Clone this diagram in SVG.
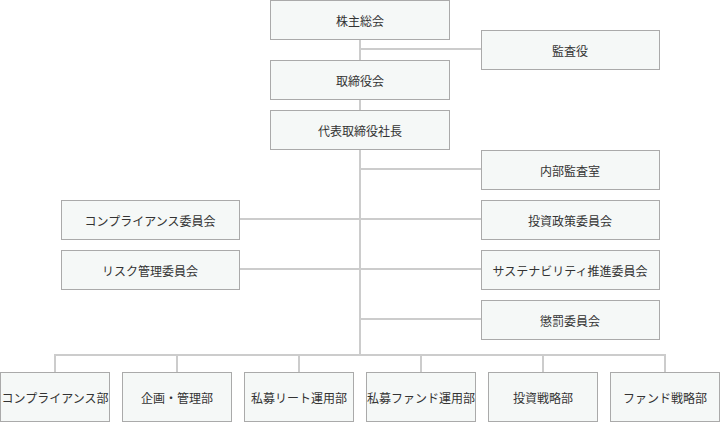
<svg xmlns="http://www.w3.org/2000/svg" width="720" height="422" viewBox="0 0 720 422">
<style>
.b{fill:#f5f8f7;stroke:#aaaaaa;stroke-width:1}
.t{font-family:"Noto Sans CJK JP",sans-serif;font-size:12px;fill:#333;text-anchor:middle;dominant-baseline:central}
.c{stroke:#cccccc;stroke-width:2;fill:none}
</style>
<rect width="720" height="422" fill="#fff"/>
<g id="connectors" class="c">
<path d="M360 39V355M360 49H481M360 169H481M360 219H481M360 269H481M360 319H481M239 219H360M239 269H360"/>
<path d="M55 355H665M55 354V372M177 354V372M299 354V372M421 354V372M543 354V372M665 354V372"/>
</g>
<g id="n1"><rect class="b" x="270.5" y="0.5" width="179" height="39"/><text class="t" x="360" y="20">株主総会</text></g>
<g id="n2"><rect class="b" x="481.5" y="30.5" width="178" height="39"/><text class="t" x="570" y="50">監査役</text></g>
<g id="n3"><rect class="b" x="270.5" y="60.5" width="179" height="39"/><text class="t" x="360" y="80">取締役会</text></g>
<g id="n4"><rect class="b" x="270.5" y="110.5" width="179" height="39"/><text class="t" x="360" y="130">代表取締役社長</text></g>
<g id="n5"><rect class="b" x="481.5" y="150.5" width="178" height="39"/><text class="t" x="570" y="170">内部監査室</text></g>
<g id="n6"><rect class="b" x="481.5" y="200.5" width="178" height="39"/><text class="t" x="570" y="220">投資政策委員会</text></g>
<g id="n7"><rect class="b" x="481.5" y="250.5" width="178" height="39"/><text class="t" x="570" y="270">サステナビリティ推進委員会</text></g>
<g id="n8"><rect class="b" x="481.5" y="300.5" width="178" height="39"/><text class="t" x="570" y="320">懲罰委員会</text></g>
<g id="n9"><rect class="b" x="61.5" y="200.5" width="178" height="39"/><text class="t" x="150" y="220">コンプライアンス委員会</text></g>
<g id="n10"><rect class="b" x="61.5" y="250.5" width="178" height="39"/><text class="t" x="150" y="270">リスク管理委員会</text></g>
<g id="n11"><rect class="b" x="0.5" y="372.5" width="109" height="49"/><text class="t" x="55" y="397">コンプライアンス部</text></g>
<g id="n12"><rect class="b" x="122.5" y="372.5" width="109" height="49"/><text class="t" x="177" y="397">企画・管理部</text></g>
<g id="n13"><rect class="b" x="244.5" y="372.5" width="109" height="49"/><text class="t" x="299" y="397">私募リート運用部</text></g>
<g id="n14"><rect class="b" x="366.5" y="372.5" width="109" height="49"/><text class="t" x="421" y="397">私募ファンド運用部</text></g>
<g id="n15"><rect class="b" x="488.5" y="372.5" width="109" height="49"/><text class="t" x="543" y="397">投資戦略部</text></g>
<g id="n16"><rect class="b" x="610.5" y="372.5" width="109" height="49"/><text class="t" x="665" y="397">ファンド戦略部</text></g>
</svg>
